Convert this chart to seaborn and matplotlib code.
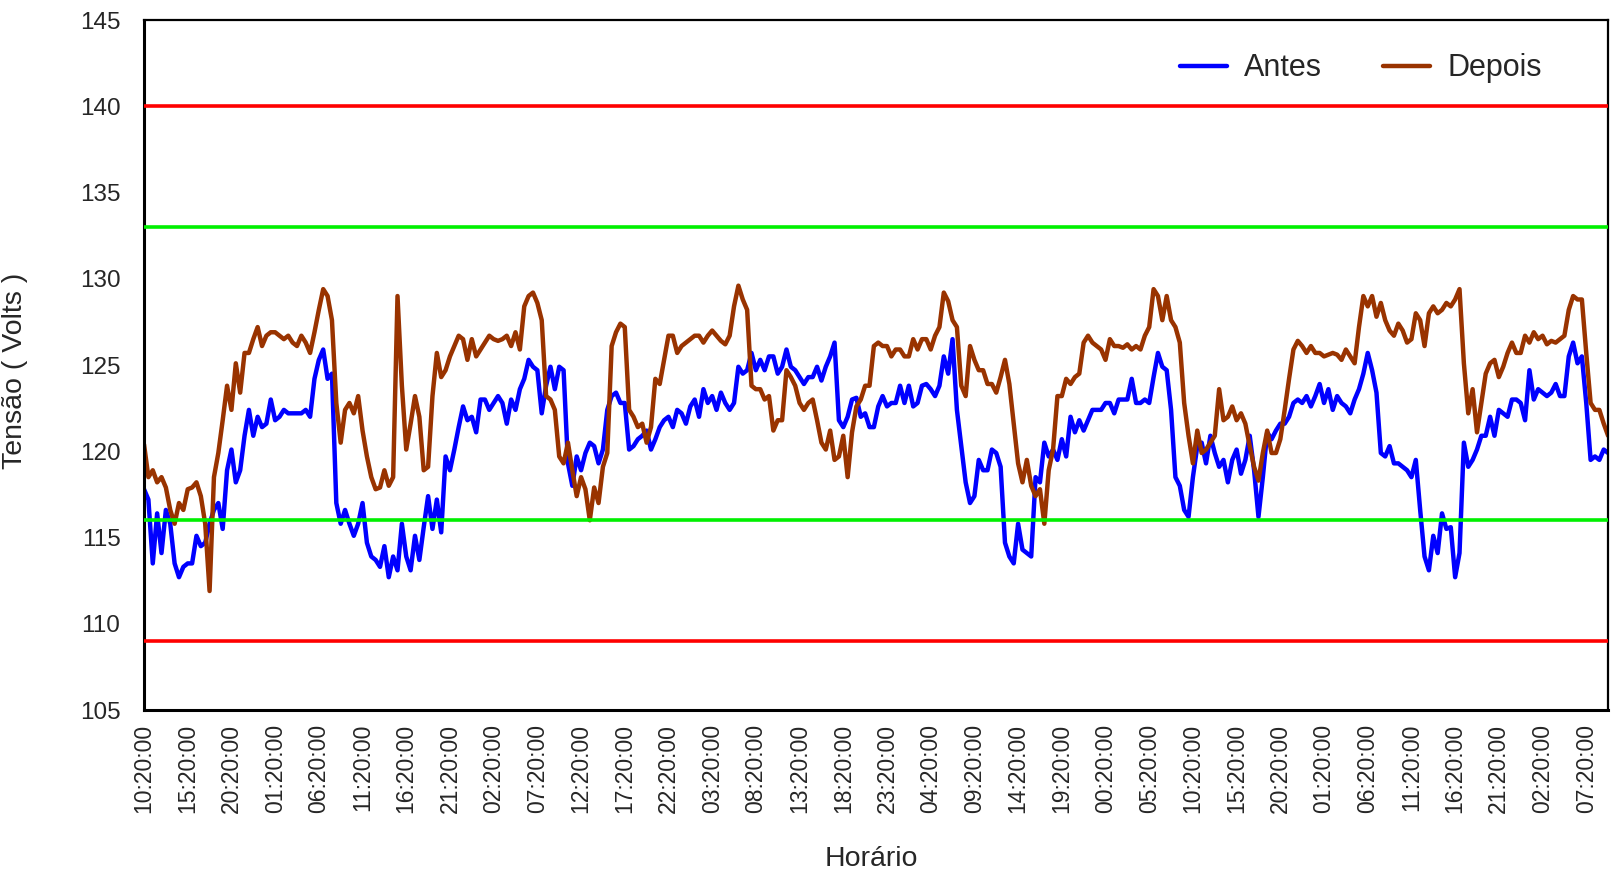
import numpy as np
import pandas as pd
import seaborn as sns
import matplotlib.pyplot as plt
import matplotlib.dates as mdates

# Voltage readings every 30 minutes
antes = [
    117.8, 117.2, 113.5, 116.4, 114.1, 116.6, 115.8, 113.5, 112.7, 113.3,
    113.5, 113.5, 115.1, 114.5, 114.7, 115.8, 116.6, 117.0, 115.5, 118.9,
    120.1, 118.2, 118.9, 120.9, 122.4, 120.9, 122.0, 121.4, 121.6, 123.0,
    121.8, 122.0, 122.4, 122.2, 122.2, 122.2, 122.2, 122.4, 122.0, 124.2,
    125.3, 125.9, 124.2, 124.5, 117.0, 115.8, 116.6, 115.8, 115.1, 115.8,
    117.0, 114.7, 113.9, 113.7, 113.3, 114.5,
    112.7, 113.9, 113.1, 115.8, 113.9, 113.1, 115.1, 113.7, 115.6, 117.4,
    115.5, 117.2, 115.3, 119.7, 118.9, 120.1, 121.4, 122.6, 121.8, 122.0,
    121.1, 123.0, 123.0, 122.4, 122.8, 123.2, 122.8, 121.6, 123.0, 122.4,
    123.6, 124.2, 125.3, 124.9, 124.7, 122.2, 123.8, 124.9, 123.6, 124.9,
    124.7, 119.3, 118.0, 119.7, 118.9, 119.9, 120.5, 120.3, 119.3, 120.1,
    122.4, 123.2, 123.4, 122.8, 122.8, 120.1,
    120.3, 120.7, 120.9, 121.2, 120.1, 120.7, 121.4, 121.8, 122.0, 121.4,
    122.4, 122.2, 121.6, 122.6, 123.0, 122.0, 123.6, 122.8, 123.2, 122.4,
    123.4, 122.8, 122.4, 122.8, 124.9, 124.5, 124.7, 125.7, 124.7, 125.3,
    124.7, 125.5, 125.5, 124.5, 124.9, 125.9, 124.9, 124.7, 124.3, 123.9,
    124.3, 124.3, 124.9, 124.1, 124.9, 125.5, 126.3, 121.8, 121.4, 122.0,
    123.0, 123.1, 122.0, 122.2,
    121.4, 121.4, 122.6, 123.2, 122.6, 122.8, 122.8, 123.8, 122.8, 123.8,
    122.6, 122.8, 123.8, 123.9, 123.6, 123.2, 123.8, 125.5, 124.5, 126.5,
    122.4, 120.3, 118.2, 117.0, 117.4, 119.5, 118.9, 118.9, 120.1, 119.9,
    119.1, 114.7, 113.9, 113.5, 115.8, 114.3, 114.1, 113.9, 118.5, 118.2,
    120.5, 119.7, 120.1, 119.5, 120.7, 119.7, 122.0, 121.1, 121.8, 121.2,
    121.8, 122.4, 122.4, 122.4, 122.8,
    122.8, 122.2, 123.0, 123.0, 123.0, 124.2, 122.8, 122.8, 123.0, 122.8,
    124.3, 125.7, 124.9, 124.7, 122.4, 118.5, 118.0, 116.6, 116.2, 118.5,
    120.3, 120.5, 119.3, 120.9, 119.9, 119.1, 119.5, 118.2, 119.5, 120.1,
    118.7, 119.5, 120.9, 118.9, 116.2, 118.5, 121.1, 120.7, 121.2, 121.6,
    121.6, 122.0, 122.8, 123.0, 122.8, 123.2, 122.6, 123.2, 123.9, 122.8,
    123.6, 122.4, 123.2,
    122.8, 122.6, 122.2, 123.0, 123.6, 124.5, 125.7, 124.7, 123.4, 119.9,
    119.7, 120.3, 119.3, 119.3, 119.1, 118.9, 118.5, 119.5, 116.6, 113.9,
    113.1, 115.1, 114.1, 116.4, 115.5, 115.6, 112.7, 114.1, 120.5, 119.1,
    119.5, 120.1, 120.9, 120.9, 122.0, 120.9, 122.4, 122.2, 122.0, 123.0,
    123.0, 122.8, 121.8, 124.7, 123.0, 123.6, 123.4, 123.2, 123.4, 123.9,
    123.2, 123.2, 125.5, 126.3, 125.1, 125.5, 122.8, 119.5, 119.7, 119.5,
    120.1, 119.9,
]

depois = [
    120.4, 118.5, 118.9, 118.2, 118.5, 117.9, 116.6, 115.8, 117.0, 116.6,
    117.8, 117.9, 118.2, 117.4, 115.8, 111.9, 118.5, 119.9, 121.8, 123.8,
    122.4, 125.1, 123.4, 125.7, 125.7, 126.5, 127.2, 126.1, 126.7, 126.9,
    126.9, 126.7, 126.5, 126.7, 126.3, 126.1, 126.7, 126.3, 125.7, 126.9,
    128.2, 129.4, 129.0, 127.6, 122.8, 120.5, 122.4, 122.8, 122.2, 123.2,
    121.2, 119.7, 118.5, 117.8, 117.9, 118.9,
    118.0, 118.5, 129.0, 123.8, 120.1, 121.6, 123.2, 122.0, 118.9, 119.1,
    123.2, 125.7, 124.3, 124.7, 125.5, 126.1, 126.7, 126.5, 125.3, 126.5,
    125.5, 125.9, 126.3, 126.7, 126.5, 126.4, 126.5, 126.7, 126.1, 126.9,
    125.9, 128.4, 129.0, 129.2, 128.6, 127.6, 123.2, 123.0, 122.4, 119.7,
    119.3, 120.5, 118.9, 117.4, 118.5, 117.8, 116.0, 117.9, 117.0, 119.1,
    119.9, 126.1, 126.9, 127.4, 127.2, 122.4,
    122.0, 121.4, 121.6, 120.5, 121.4, 124.2, 123.9, 125.3, 126.7, 126.7,
    125.7, 126.1, 126.3, 126.5, 126.7, 126.7, 126.3, 126.7, 127.0, 126.7,
    126.4, 126.2, 126.7, 128.4, 129.6, 128.8, 128.2, 123.8, 123.6, 123.6,
    123.0, 123.2, 121.2, 121.8, 121.8, 124.7, 124.3, 123.8, 122.8, 122.4,
    122.8, 123.0, 121.8, 120.5, 120.1, 121.2, 119.5, 119.7, 120.9, 118.5,
    121.1, 122.6, 123.0, 123.8,
    123.8, 126.1, 126.3, 126.1, 126.1, 125.5, 125.9, 125.9, 125.5, 125.5,
    126.5, 125.9, 126.5, 126.5, 125.9, 126.7, 127.2, 129.2, 128.7, 127.6,
    127.2, 123.8, 123.2, 126.1, 125.3, 124.7, 124.7, 123.9, 123.9, 123.4,
    124.3, 125.3, 123.9, 121.6, 119.3, 118.2, 119.5, 118.0, 117.4, 117.8,
    115.8, 118.9, 120.1, 123.2, 123.2, 124.2, 123.9, 124.3, 124.5, 126.3,
    126.7, 126.3, 126.1, 125.9, 125.3,
    126.5, 126.1, 126.1, 126.0, 126.2, 125.9, 126.1, 125.9, 126.7, 127.2,
    129.4, 129.0, 127.6, 129.0, 127.6, 127.2, 126.3, 122.8, 120.9, 119.3,
    121.2, 119.9, 120.1, 120.5, 120.9, 123.6, 121.8, 122.0, 122.6, 121.8,
    122.2, 121.6, 120.3, 119.1, 118.3, 119.9, 121.2, 119.9, 119.9, 120.7,
    122.4, 124.2, 125.9, 126.4, 126.1, 125.7, 126.1, 125.7, 125.7, 125.5,
    125.6, 125.7, 125.6,
    125.3, 125.9, 125.5, 125.1, 127.2, 129.0, 128.4, 129.0, 127.8, 128.6,
    127.6, 127.0, 126.7, 127.4, 127.0, 126.3, 126.5, 128.0, 127.6, 126.1,
    128.0, 128.4, 128.0, 128.2, 128.6, 128.4, 128.8, 129.4, 125.1, 122.2,
    123.6, 121.1, 122.8, 124.5, 125.1, 125.3, 124.3, 124.9, 125.7, 126.3,
    125.7, 125.7, 126.7, 126.3, 126.9, 126.5, 126.7, 126.2, 126.4, 126.3,
    126.5, 126.7, 128.2, 129.0, 128.8, 128.8, 125.7, 122.8, 122.4, 122.4,
    121.6, 120.9,
]

limites_prec = [109, 140]   # red limits
limites_adeq = [116, 133]   # green limits

horario = pd.date_range("2000-01-01 10:20:00", periods=len(antes), freq="30min")

df = pd.DataFrame({
    "Horário": np.concatenate([horario, horario]),
    "Tensão": antes + depois,
    "Série": ["Antes"] * len(antes) + ["Depois"] * len(depois),
})

sns.set_theme(style="white")
plt.rcParams["font.family"] = ["Liberation Sans", "DejaVu Sans"]

fig = plt.figure(figsize=(16.11, 8.74), dpi=100)
ax = fig.add_axes([0.0894, 0.1876, 0.9088, 0.7895])

sns.lineplot(data=df, x="Horário", y="Tensão", hue="Série",
             palette={"Antes": "#0000FF", "Depois": "#993300"},
             linewidth=3.2, ax=ax, zorder=2)

for v in limites_prec:
    ax.axhline(v, color="#FF0000", linewidth=2.6, zorder=3)
for v in limites_adeq:
    ax.axhline(v, color="#00F000", linewidth=2.6, zorder=3)

ax.set_ylim(105, 145)
ax.set_yticks(range(105, 146, 5))
ax.set_xlim(horario[0], horario[-1])
ax.set_xticks(horario[::10])
ax.xaxis.set_major_formatter(mdates.DateFormatter("%H:%M:%S"))
ax.tick_params(axis="x", labelrotation=90, labelsize=16.5, length=0, pad=10)
ax.tick_params(axis="y", labelsize=17.5, length=0, pad=17)

ax.set_ylabel("Tensão ( Volts )", fontsize=20.5)
ax.yaxis.set_label_coords(-0.079, 0.491)
ax.set_xlabel("Horário", fontsize=20.5)
ax.xaxis.set_label_coords(0.497, -0.216)
ax.xaxis.label.set_va("center")

for side, lw in [("left", 2.2), ("bottom", 2.2), ("top", 1.6), ("right", 1.6)]:
    ax.spines[side].set_color("black")
    ax.spines[side].set_linewidth(lw)

ax.legend(loc="center", bbox_to_anchor=(0.831, 0.93), ncol=2, frameon=False,
          fontsize=22, handlelength=1.55, handletextpad=0.55, columnspacing=2.0)

plt.savefig("out.png", dpi=100)
